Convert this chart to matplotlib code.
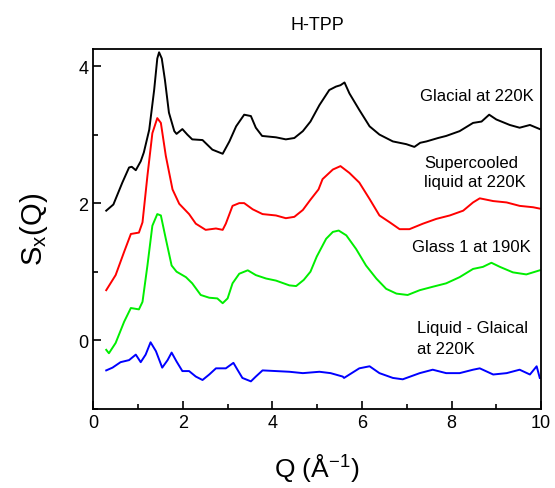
import numpy as np
import matplotlib
matplotlib.use('Agg')
import matplotlib.pyplot as plt
from matplotlib.ticker import MultipleLocator

plt.rcParams['font.family'] = ['Liberation Sans', 'DejaVu Sans']
plt.rcParams['mathtext.default'] = 'regular'

# S(Q) curves
q_glacial = [0.29, 0.45, 0.65, 0.80, 0.86, 0.95, 1.06, 1.13, 1.25, 1.36, 1.43, 1.47, 1.53, 1.60,
             1.69, 1.81, 1.86, 1.99, 2.10, 2.21, 2.44, 2.66, 2.89, 3.04, 3.19, 3.37, 3.52, 3.63,
             3.77, 4.08, 4.30, 4.49, 4.68, 4.85, 5.05, 5.27, 5.42, 5.52, 5.61, 5.72, 5.94, 6.17,
             6.39, 6.69, 6.99, 7.17, 7.30, 7.44, 7.70, 7.88, 8.18, 8.48, 8.67, 8.84, 9.00, 9.30,
             9.52, 9.75, 9.97]
s_glacial = [1.89, 1.98, 2.30, 2.52, 2.53, 2.48, 2.61, 2.74, 3.07, 3.65, 4.11, 4.20, 4.11, 3.80,
             3.32, 3.05, 3.01, 3.08, 3.00, 2.93, 2.92, 2.78, 2.72, 2.90, 3.12, 3.29, 3.27, 3.10,
             2.98, 2.96, 2.93, 2.95, 3.05, 3.19, 3.43, 3.65, 3.70, 3.72, 3.76, 3.60, 3.36, 3.12,
             3.00, 2.90, 2.86, 2.82, 2.88, 2.90, 2.95, 2.98, 3.05, 3.17, 3.19, 3.29, 3.22, 3.14,
             3.10, 3.14, 3.08]

q_super = [0.29, 0.50, 0.69, 0.84, 1.02, 1.10, 1.21, 1.32, 1.43, 1.51, 1.62, 1.77, 1.92, 2.14,
           2.29, 2.51, 2.74, 2.89, 2.96, 3.11, 3.26, 3.37, 3.56, 3.78, 4.08, 4.30, 4.49, 4.68,
           4.85, 5.03, 5.12, 5.35, 5.52, 5.72, 5.94, 6.17, 6.39, 6.62, 6.84, 7.06, 7.36, 7.66,
           7.96, 8.26, 8.48, 8.63, 8.93, 9.23, 9.52, 9.82, 9.97]
s_super = [0.73, 0.95, 1.29, 1.55, 1.57, 1.72, 2.40, 3.02, 3.24, 3.17, 2.69, 2.20, 1.99, 1.84,
           1.70, 1.61, 1.63, 1.61, 1.70, 1.96, 2.00, 2.00, 1.91, 1.84, 1.82, 1.78, 1.80, 1.90,
           2.05, 2.20, 2.35, 2.49, 2.54, 2.44, 2.30, 2.06, 1.82, 1.72, 1.62, 1.62, 1.70, 1.77,
           1.82, 1.89, 2.01, 2.07, 2.03, 2.01, 1.96, 1.94, 1.92]

q_glass = [0.29, 0.35, 0.50, 0.69, 0.84, 1.02, 1.10, 1.21, 1.32, 1.43, 1.51, 1.62, 1.75, 1.86,
           2.07, 2.21, 2.40, 2.59, 2.77, 2.89, 3.00, 3.11, 3.26, 3.45, 3.63, 3.86, 4.08, 4.38,
           4.53, 4.70, 4.85, 4.99, 5.20, 5.35, 5.48, 5.65, 5.87, 6.09, 6.32, 6.54, 6.77, 7.02,
           7.29, 7.58, 7.88, 8.18, 8.48, 8.70, 8.89, 9.08, 9.37, 9.67, 9.97]
s_glass = [-0.14, -0.19, -0.04, 0.27, 0.47, 0.45, 0.56, 1.09, 1.67, 1.84, 1.82, 1.48, 1.09, 1.00,
           0.92, 0.83, 0.66, 0.62, 0.61, 0.54, 0.61, 0.83, 0.97, 1.02, 0.95, 0.90, 0.87, 0.80,
           0.79, 0.88, 1.00, 1.22, 1.48, 1.58, 1.60, 1.53, 1.33, 1.09, 0.90, 0.75, 0.68, 0.66,
           0.73, 0.78, 0.83, 0.92, 1.04, 1.07, 1.13, 1.07, 0.99, 0.96, 1.02]

q_diff = [0.29, 0.43, 0.61, 0.80, 0.95, 1.06, 1.17, 1.28, 1.40, 1.54, 1.66, 1.75, 1.86, 1.99,
          2.14, 2.29, 2.44, 2.59, 2.74, 2.96, 3.13, 3.22, 3.33, 3.52, 3.63, 3.78, 4.08, 4.38,
          4.68, 5.05, 5.30, 5.57, 5.60, 5.94, 6.17, 6.39, 6.69, 6.91, 7.29, 7.58, 7.88, 8.18,
          8.48, 8.63, 8.93, 9.23, 9.52, 9.75, 9.90, 9.97]
s_diff = [-0.44, -0.40, -0.32, -0.29, -0.21, -0.32, -0.21, -0.03, -0.16, -0.40, -0.29, -0.18,
          -0.31, -0.45, -0.45, -0.53, -0.58, -0.50, -0.41, -0.41, -0.33, -0.43, -0.55, -0.60,
          -0.53, -0.44, -0.45, -0.46, -0.48, -0.46, -0.48, -0.53, -0.55, -0.41, -0.38, -0.48,
          -0.55, -0.57, -0.48, -0.43, -0.48, -0.48, -0.43, -0.41, -0.50, -0.48, -0.43, -0.50,
          -0.38, -0.55]

fig = plt.figure(figsize=(5.55, 4.89), dpi=100)
ax = fig.add_axes([0.168, 0.162, 0.807, 0.736])

ax.plot(q_glacial, s_glacial, color='black', lw=1.4)
ax.plot(q_super, s_super, color='red', lw=1.4)
ax.plot(q_glass, s_glass, color='#00ee00', lw=1.4)
ax.plot(q_diff, s_diff, color='blue', lw=1.4)

ax.text(9.84, 3.57, 'Glacial at 220K', ha='right', va='center', fontsize=12)
ax.text(7.39, 2.455, 'Supercooled\nliquid at 220K', ha='left', va='center', fontsize=12,
        linespacing=1.4)
ax.text(7.12, 1.37, 'Glass 1 at 190K', ha='left', va='center', fontsize=12)
ax.text(7.23, 0.035, 'Liquid - Glaical\nat 220K', ha='left', va='center', fontsize=12,
        linespacing=1.45)

ax.set_xlim(0, 10)
ax.set_ylim(-1.0, 4.25)
ax.xaxis.set_major_locator(MultipleLocator(2))
ax.xaxis.set_minor_locator(MultipleLocator(1))
ax.yaxis.set_major_locator(MultipleLocator(2))
ax.yaxis.set_minor_locator(MultipleLocator(1))
ax.tick_params(which='both', direction='in', top=False, right=False, width=1.2, labelsize=13)
ax.tick_params(which='major', length=6)
ax.tick_params(which='minor', length=3.5)
for sp in ax.spines.values():
    sp.set_linewidth(1.3)

ax.set_xlabel('Q (Å$^{-1}$)', fontsize=19, labelpad=15)
ax.set_ylabel('S$_x$(Q)', fontsize=21, labelpad=20)
ax.set_title('H-TPP', fontsize=13, pad=14)

fig.savefig('out.png', dpi=100)
